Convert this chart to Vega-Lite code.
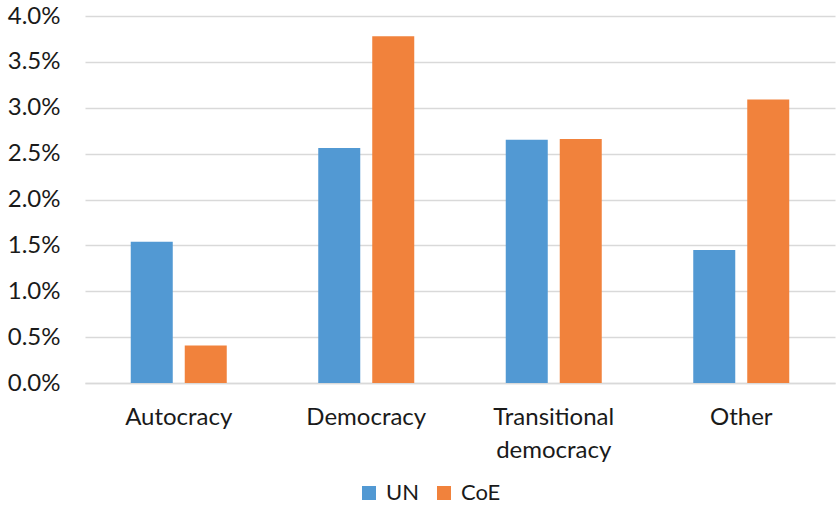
{
  "$schema": "https://vega.github.io/schema/vega-lite/v6.json",
  "width": 750,
  "height": 367,
  "autosize": {"type": "none"},
  "padding": {"left": 85, "top": 16, "right": 2, "bottom": 122},
  "background": "white",
  "data": {
    "values": [
      {"regime": "Autocracy", "body": "UN", "share": 0.0154},
      {"regime": "Autocracy", "body": "CoE", "share": 0.0041},
      {"regime": "Democracy", "body": "UN", "share": 0.0256},
      {"regime": "Democracy", "body": "CoE", "share": 0.0378},
      {"regime": "Transitional democracy", "body": "UN", "share": 0.0265},
      {"regime": "Transitional democracy", "body": "CoE", "share": 0.0266},
      {"regime": "Other", "body": "UN", "share": 0.0145},
      {"regime": "Other", "body": "CoE", "share": 0.0309}
    ]
  },
  "mark": {"type": "bar"},
  "encoding": {
    "x": {
      "field": "regime",
      "type": "nominal",
      "sort": ["Autocracy", "Democracy", "Transitional democracy", "Other"],
      "scale": {"paddingInner": 0.488, "paddingOuter": 0.244},
      "axis": {
        "title": null,
        "labelAngle": 0,
        "ticks": false,
        "domainColor": "#D9D9D9",
        "domainWidth": 1.5,
        "labelFont": "Lato",
        "labelFontSize": 24,
        "labelColor": "#1a1a1a",
        "labelPadding": 22,
        "labelLineHeight": 33,
        "labelExpr": "datum.value == 'Transitional democracy' ? ['Transitional', 'democracy'] : datum.value"
      }
    },
    "xOffset": {
      "field": "body",
      "type": "nominal",
      "sort": ["UN", "CoE"],
      "scale": {"paddingInner": 0.222, "paddingOuter": 0}
    },
    "y": {
      "field": "share",
      "type": "quantitative",
      "scale": {"domain": [0, 0.04], "nice": false},
      "axis": {
        "title": null,
        "format": ".1%",
        "values": [0, 0.005, 0.01, 0.015, 0.02, 0.025, 0.03, 0.035, 0.04],
        "domain": false,
        "ticks": false,
        "gridColor": "#D9D9D9",
        "gridWidth": 1.5,
        "labelFont": "Lato",
        "labelFontSize": 24,
        "labelColor": "#1a1a1a",
        "labelPadding": 25
      }
    },
    "color": {
      "field": "body",
      "type": "nominal",
      "sort": ["UN", "CoE"],
      "scale": {"domain": ["UN", "CoE"], "range": ["#5299D3", "#F1823C"]},
      "legend": {
        "title": null,
        "orient": "none",
        "direction": "horizontal",
        "legendX": 273,
        "legendY": 466,
        "symbolType": "square",
        "symbolSize": 196,
        "symbolStrokeWidth": 0,
        "symbolOpacity": 1,
        "labelFont": "Lato",
        "labelFontSize": 22,
        "labelColor": "#1a1a1a",
        "labelOffset": 6,
        "columnPadding": 14
      }
    }
  },
  "config": {"view": {"stroke": null}}
}
